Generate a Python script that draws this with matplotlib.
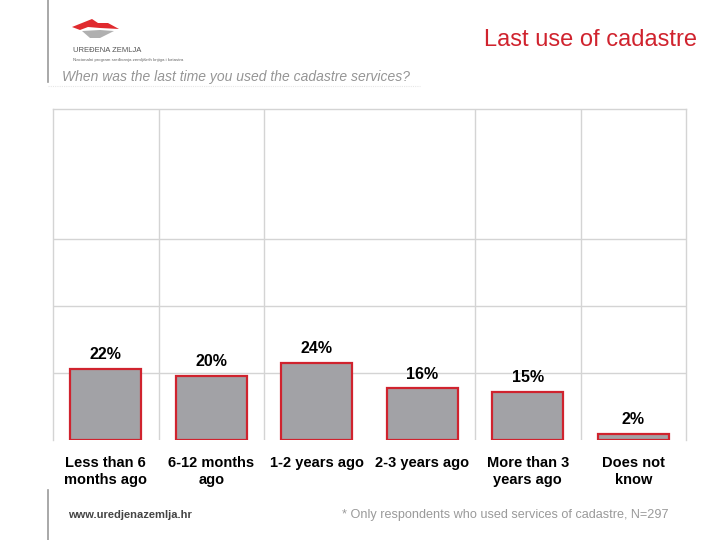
import matplotlib
matplotlib.use("Agg")
import matplotlib.pyplot as plt
from matplotlib.patches import Polygon
from matplotlib.lines import Line2D

plt.rcParams['font.family'] = ['Liberation Sans', 'DejaVu Sans']

categories = ["Less than 6\nmonths ago", "6-12 months\nago", "1-2 years ago",
              "2-3 years ago", "More than 3\nyears ago", "Does not\nknow"]
values = [0.22, 0.20, 0.24, 0.16, 0.15, 0.02]
value_labels = ["22%", "20%", "24%", "16%", "15%", "2%"]

title = "Last use of cadastre"
subtitle = "When was the last time you used the cadastre services?"
footnote = "* Only respondents who used services of cadastre, N=297"
website = "www.uredjenazemlja.hr"

RED = "#d0232e"
BAR_FILL = "#a2a2a6"
GRID = "#d4d4d4"

fig = plt.figure(figsize=(7.2, 5.4), dpi=100)
ax = fig.add_axes([53/720, 1-440/540, 633/720, 331/540])

x = list(range(len(categories)))
ax.bar(x, values, width=0.67, color=BAR_FILL, edgecolor=RED, linewidth=1.6, zorder=3)
for xi, v, lab in zip(x, values, value_labels):
    ax.annotate(lab, (xi, v), xytext=(0, 5), textcoords="offset points",
                ha="center", va="bottom", fontsize=11.5, fontweight="bold", color="black")

ax.set_xlim(-0.5, len(categories) - 0.5)
ax.set_ylim(0, 1.028)
ax.set_yticks([0.208, 0.416, 0.624])
ax.set_yticklabels([])
ax.tick_params(axis="y", length=0)
ax.grid(axis="y", color=GRID, linewidth=1, zorder=0)
for b in [0.5, 1.5, 3.5, 4.5]:
    ax.axvline(b, color=GRID, linewidth=1, zorder=0)
ax.set_xticks(x)
ax.set_xticklabels(categories, fontsize=10.5, fontweight="bold", linespacing=1.3)
ax.tick_params(axis="x", length=0, pad=11.2)
for s in ["left", "right", "top"]:
    ax.spines[s].set_color(GRID)
    ax.spines[s].set_linewidth(1)
ax.spines["bottom"].set_visible(False)

# header
fig.text(697/720, 1-40/540, title, ha="right", va="center", fontsize=17, color=RED)
fig.text(62/720, 1-77/540, subtitle, ha="left", va="center", fontsize=10,
         style="italic", color="#959595")
fig.add_artist(Line2D([48/720, 48/720], [1-0/540, 1-82/540], color="#9a9a9a", linewidth=1.2))
fig.add_artist(Line2D([48/720, 48/720], [1-490/540, 1-540/540], color="#9a9a9a", linewidth=1.2))
fig.add_artist(Line2D([48/720, 420/720], [1-86/540, 1-86/540], color="#e6e6e6",
                      linewidth=0.8, linestyle=(0, (1, 1))))

# logo
def fpt(px, py):
    return (px/720, 1-py/540)
fig.add_artist(Polygon([fpt(72, 27), fpt(92, 19), fpt(98, 23), fpt(108, 23), fpt(119, 29),
                        fpt(100, 28), fpt(88, 27), fpt(80, 30)],
                       closed=True, facecolor="#e02a2e", edgecolor="none"))
fig.add_artist(Polygon([fpt(82, 31), fpt(100, 30), fpt(114, 31), fpt(100, 38), fpt(90, 38)],
                       closed=True, facecolor="#b0b0b0", edgecolor="none"))
fig.text(73/720, 1-50/540, "UREĐENA ZEMLJA", fontsize=5.5, color="#555555", va="center")
fig.text(73/720, 1-60/540, "Nacionalni program sređivanja zemljišnih knjiga i katastra",
         fontsize=3.2, color="#666666", va="center")

# footer
fig.text(68/720, 1-515/540, website, fontsize=8, color="#444444", fontweight="bold", va="center")
fig.text(668/720, 1-515/540, footnote, fontsize=9.1, color="#9a9a9a", ha="right", va="center")

fig.savefig("out.png", dpi=100)
